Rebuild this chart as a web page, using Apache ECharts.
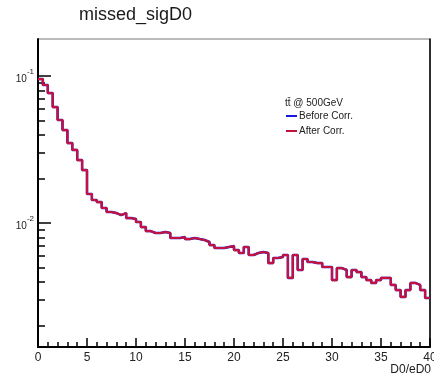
<!DOCTYPE html>
<html><head><meta charset="utf-8">
<script src="https://cdn.jsdelivr.net/npm/echarts@6/dist/echarts.min.js"></script>
<style>html,body{margin:0;padding:0;background:#fff}#c{width:434px;height:378px}</style>
</head><body><div id="c"></div>
<script>
// ---- data ----
const chartTitle = 'missed_sigD0';
const xAxisTitle = 'D0/eD0';
const sampleLabel = 't\u0074\u0304 @ 500GeV';
const seriesNames = ['Before Corr.', 'After Corr.'];
const binLowEdge = 0;
const binWidth = 0.5;
const xMin = 0, xMax = 40, xMajorStep = 5;
const yMin = 0.001434, yMax = 0.1786;
const yMajorTicks = [0.01, 0.1];
const yMinorTicks = [0.002, 0.003, 0.004, 0.005, 0.006, 0.007, 0.008, 0.009,
                     0.02, 0.03, 0.04, 0.05, 0.06, 0.07, 0.08, 0.09];
const afterCorr = [
  0.0954, 0.0869, 0.0766, 0.0615, 0.0502, 0.0429, 0.0350, 0.0314, 0.0268, 0.0229,
  0.01576, 0.01434, 0.01389, 0.01265, 0.01188, 0.01169, 0.01133, 0.01169, 0.01081, 0.01065,
  0.01016, 0.00939, 0.00882, 0.00855, 0.00855, 0.00869,
  0.00855, 0.00791, 0.00791, 0.00803, 0.00778, 0.00791, 0.00778, 0.00766, 0.00743, 0.00708,
  0.00676, 0.00676, 0.00687, 0.00698, 0.00655, 0.00625, 0.00687, 0.00606, 0.00625, 0.00635,
  0.00625, 0.00534, 0.00578, 0.00587, 0.00606, 0.00423, 0.00606, 0.00479,
  0.00569, 0.00543, 0.00534, 0.00534, 0.00502, 0.00502, 0.00409, 0.00494, 0.00479, 0.00429,
  0.00479, 0.00464, 0.00429, 0.00409, 0.00391, 0.00409, 0.00423, 0.00423, 0.00379, 0.00350,
  0.00314, 0.00350, 0.00391, 0.00379, 0.00350, 0.00309
];
const beforeCorr = afterCorr.slice();

// ---- build step data (value held over each bin) ----
function stepData(vals) {
  const d = vals.map((v, i) => [binLowEdge + i * binWidth, v]);
  d.push([binLowEdge + vals.length * binWidth, vals[vals.length - 1]]);
  return d;
}

const FONT = '"Liberation Sans", Arial, Helvetica, sans-serif';
const chart = echarts.init(document.getElementById('c'), null, {renderer: 'canvas'});
chart.setOption({
  animation: false,
  backgroundColor: '#fff',
  grid: {left: 38, right: 4, top: 39, bottom: 31, show: true, borderColor: '#777', borderWidth: 1,
         containLabel: false, outerBoundsMode: 'none'},
  legend: {
    orient: 'vertical', left: 286, top: 111, itemWidth: 11, itemHeight: 2, itemGap: 5,
    icon: 'rect', selectedMode: false, padding: 0,
    data: seriesNames,
    textStyle: {fontSize: 10, fontFamily: FONT, color: '#222', padding: [0, 0, 0, -3]}
  },
  xAxis: {
    type: 'value', min: xMin, max: xMax, interval: xMajorStep,
    axisLine: {show: true, lineStyle: {color: '#000', width: 2}},
    axisTick: {show: true, inside: true, length: 9, lineStyle: {color: '#000', width: 1.5}},
    minorTick: {show: true, splitNumber: 5, length: 5, lineStyle: {color: '#000', width: 1.5}},
    splitLine: {show: false},
    axisLabel: {show: true, margin: 5, fontSize: 12, fontFamily: FONT, color: '#222',
                showMinLabel: true, showMaxLabel: true}
  },
  yAxis: [
    {
      type: 'log', min: yMin, max: yMax, position: 'left',
      axisLine: {show: true, lineStyle: {color: '#000', width: 2}},
      axisTick: {show: true, inside: true, length: 13, customValues: yMajorTicks,
                 lineStyle: {color: '#000', width: 1.5}},
      splitLine: {show: false},
      axisLabel: {
        show: true, margin: 4, customValues: yMajorTicks,
        formatter: v => '{b|10}{s|' + Math.round(Math.log10(v)) + '}',
        rich: {
          b: {fontSize: 10, fontFamily: FONT, color: '#222', lineHeight: 16, verticalAlign: 'bottom'},
          s: {fontSize: 8, fontFamily: FONT, color: '#222', lineHeight: 9, verticalAlign: 'top'}
        }
      }
    },
    {
      type: 'log', min: yMin, max: yMax, position: 'left',
      axisLine: {show: false},
      axisTick: {show: true, inside: true, length: 7, customValues: yMinorTicks,
                 lineStyle: {color: '#000', width: 1.5}},
      splitLine: {show: false},
      axisLabel: {show: false}
    },
    {
      type: 'log', min: yMin, max: yMax, position: 'right',
      axisLine: {show: true, lineStyle: {color: '#000', width: 1.5}},
      axisTick: {show: false}, splitLine: {show: false}, axisLabel: {show: false}
    }
  ],
  series: [
    {
      name: seriesNames[0], type: 'line', step: 'end', yAxisIndex: 0,
      data: stepData(beforeCorr), symbol: 'none', color: '#1a1adf',
      lineStyle: {color: '#1a1adf', width: 2.5}
    },
    {
      name: seriesNames[1], type: 'line', step: 'end', yAxisIndex: 0,
      data: stepData(afterCorr), symbol: 'none', color: '#c4123c',
      lineStyle: {color: '#c4123c', width: 2.2}
    }
  ],
  graphic: [
    {type: 'text', x: 79, y: 15, silent: true,
     style: {text: chartTitle, font: '18px ' + FONT, fill: '#1a1a1a', align: 'left', verticalAlign: 'middle'}},
    {type: 'text', x: 285, y: 103, silent: true,
     style: {text: sampleLabel, font: '10px ' + FONT, fill: '#222', align: 'left', verticalAlign: 'middle'}},
    {type: 'text', x: 431, y: 370, silent: true,
     style: {text: xAxisTitle, font: '12px ' + FONT, fill: '#222', align: 'right', verticalAlign: 'middle'}}
  ]
});
</script>
</body></html>
